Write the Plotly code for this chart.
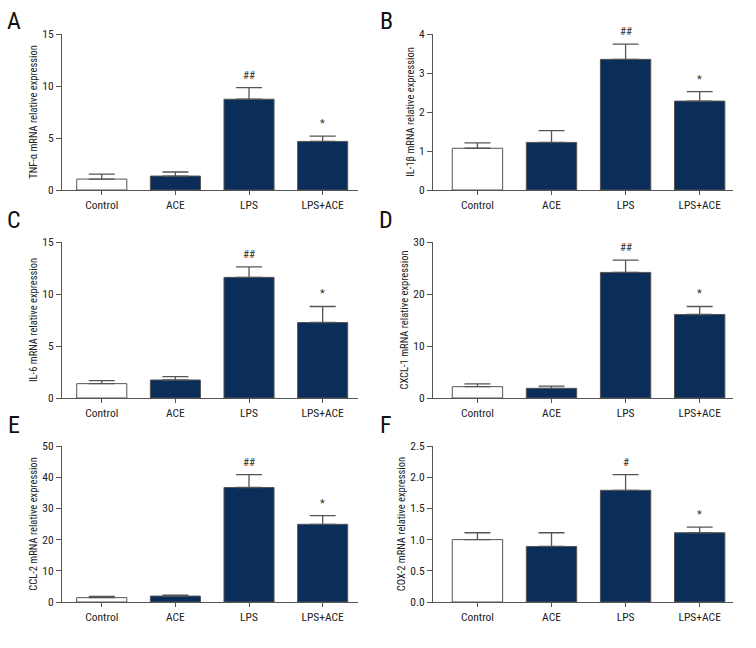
import plotly.graph_objects as go

categories = ["Control", "ACE", "LPS", "LPS+ACE"]

# mean and SEM
tnf_mean = [1.05, 1.34, 8.73, 4.67]
tnf_sem = [0.47, 0.39, 1.12, 0.51]
il1b_mean = [1.07, 1.22, 3.35, 2.28]
il1b_sem = [0.14, 0.30, 0.39, 0.24]
il6_mean = [1.38, 1.73, 11.6, 7.26]
il6_sem = [0.29, 0.33, 1.0, 1.54]
cxcl1_mean = [2.18, 1.86, 24.15, 16.06]
cxcl1_sem = [0.52, 0.44, 2.35, 1.54]
ccl2_mean = [1.4, 1.9, 36.7, 24.9]
ccl2_sem = [0.4, 0.3, 4.1, 2.8]
cox2_mean = [1.0, 0.89, 1.79, 1.11]
cox2_sem = [0.11, 0.22, 0.25, 0.09]

panel_letters = ["A", "B", "C", "D", "E", "F"]
y_titles = [
    "TNF-α mRNA relative expression",
    "IL-1β mRNA relative expression",
    "IL-6 mRNA relative expression",
    "CXCL-1 mRNA relative expression",
    "CCL-2 mRNA relative expression",
    "COX-2 mRNA relative expression",
]
y_max = [15, 4, 15, 30, 50, 2.5]
y_step = [5, 1, 5, 10, 10, 0.5]
lps_marks = ["##", "##", "##", "##", "##", "#"]
ace_marks = ["*", "*", "*", "*", "*", "*"]

means = [tnf_mean, il1b_mean, il6_mean, cxcl1_mean, ccl2_mean, cox2_mean]
sems = [tnf_sem, il1b_sem, il6_sem, cxcl1_sem, ccl2_sem, cox2_sem]

W, H = 756, 648
FONT = "Roboto Condensed, Liberation Sans Narrow, sans-serif"
NAVY = "#0b2d59"
GREY = "#555555"

# pixel boxes of each plot area: (left, right, top, bottom)
boxes = [
    (62, 358, 34, 190), (433, 733, 34, 190),
    (62, 358, 242, 398), (433, 733, 242, 398),
    (62, 358, 446, 602), (433, 733, 446, 602),
]
letter_pos = [(14, 21), (386, 21), (14, 220), (386, 220), (14, 425), (386, 425)]

fig = go.Figure()
layout = {}
annotations = []

for i in range(6):
    n = "" if i == 0 else str(i + 1)
    xa, ya = "x" + n, "y" + n
    left, right, top, bottom = boxes[i]
    col_left = (i % 2 == 0)

    fig.add_trace(go.Bar(
        x=categories, y=means[i], xaxis=xa, yaxis=ya,
        width=0.68,
        marker=dict(color=["white", NAVY, NAVY, NAVY],
                    line=dict(color=GREY, width=1)),
        error_y=dict(type="data", symmetric=False, array=sems[i],
                     arrayminus=[0, 0, 0, 0], color=GREY,
                     thickness=1.3, width=13),
        showlegend=False,
    ))

    tickvals = []
    v = 0.0
    while v <= y_max[i] + 1e-9:
        tickvals.append(round(v, 2))
        v += y_step[i]
    fmt = ".1f" if y_step[i] < 1 else "d"

    layout["xaxis" + n] = dict(
        domain=[left / W, right / W], anchor=ya, automargin=False,
        range=[-0.54, 3.48] if col_left else [-0.6, 3.45],
        showline=True, linecolor=GREY, linewidth=1.2,
        ticks="outside", ticklen=4, tickcolor=GREY, tickwidth=1,
        tickfont=dict(family=FONT, size=11.5, color="#222"),
        showgrid=False, zeroline=False, fixedrange=True,
    )
    layout["yaxis" + n] = dict(
        domain=[1 - bottom / H, 1 - top / H], anchor=xa, automargin=False,
        range=[0, y_max[i]], tickvals=tickvals, tickformat=fmt,
        showline=True, linecolor=GREY, linewidth=1.2,
        ticks="outside", ticklen=5, tickcolor=GREY, tickwidth=1,
        tickfont=dict(family=FONT, size=11.5, color="#222"),
        title=dict(text=y_titles[i], font=dict(family=FONT, size=10.5, color="#222"),
                   standoff=2),
        showgrid=False, zeroline=False, fixedrange=True,
    )

    # significance marks above the error bars
    for k, mark in ((2, lps_marks[i]), (3, ace_marks[i])):
        annotations.append(dict(
            x=categories[k], y=means[i][k] + sems[i][k], xref=xa, yref=ya,
            text=mark, showarrow=False, yanchor="bottom", yshift=4,
            font=dict(family=FONT, size=11, color="#333"),
        ))

    lx, ly = letter_pos[i]
    annotations.append(dict(
        x=lx / W, y=1 - ly / H, xref="paper", yref="paper",
        text=panel_letters[i], showarrow=False,
        xanchor="center", yanchor="middle",
        font=dict(family=FONT, size=24, color="#111"),
    ))

fig.update_layout(
    **layout,
    annotations=annotations,
    width=W, height=H,
    margin=dict(l=0, r=0, t=0, b=0),
    paper_bgcolor="white", plot_bgcolor="white",
    bargap=0.3,
)

# drop the browser's default 8px body margin so the figure fills the window
fig.write_html("out.html", config={"displayModeBar": False},
               post_script="document.body.style.margin='0';")
